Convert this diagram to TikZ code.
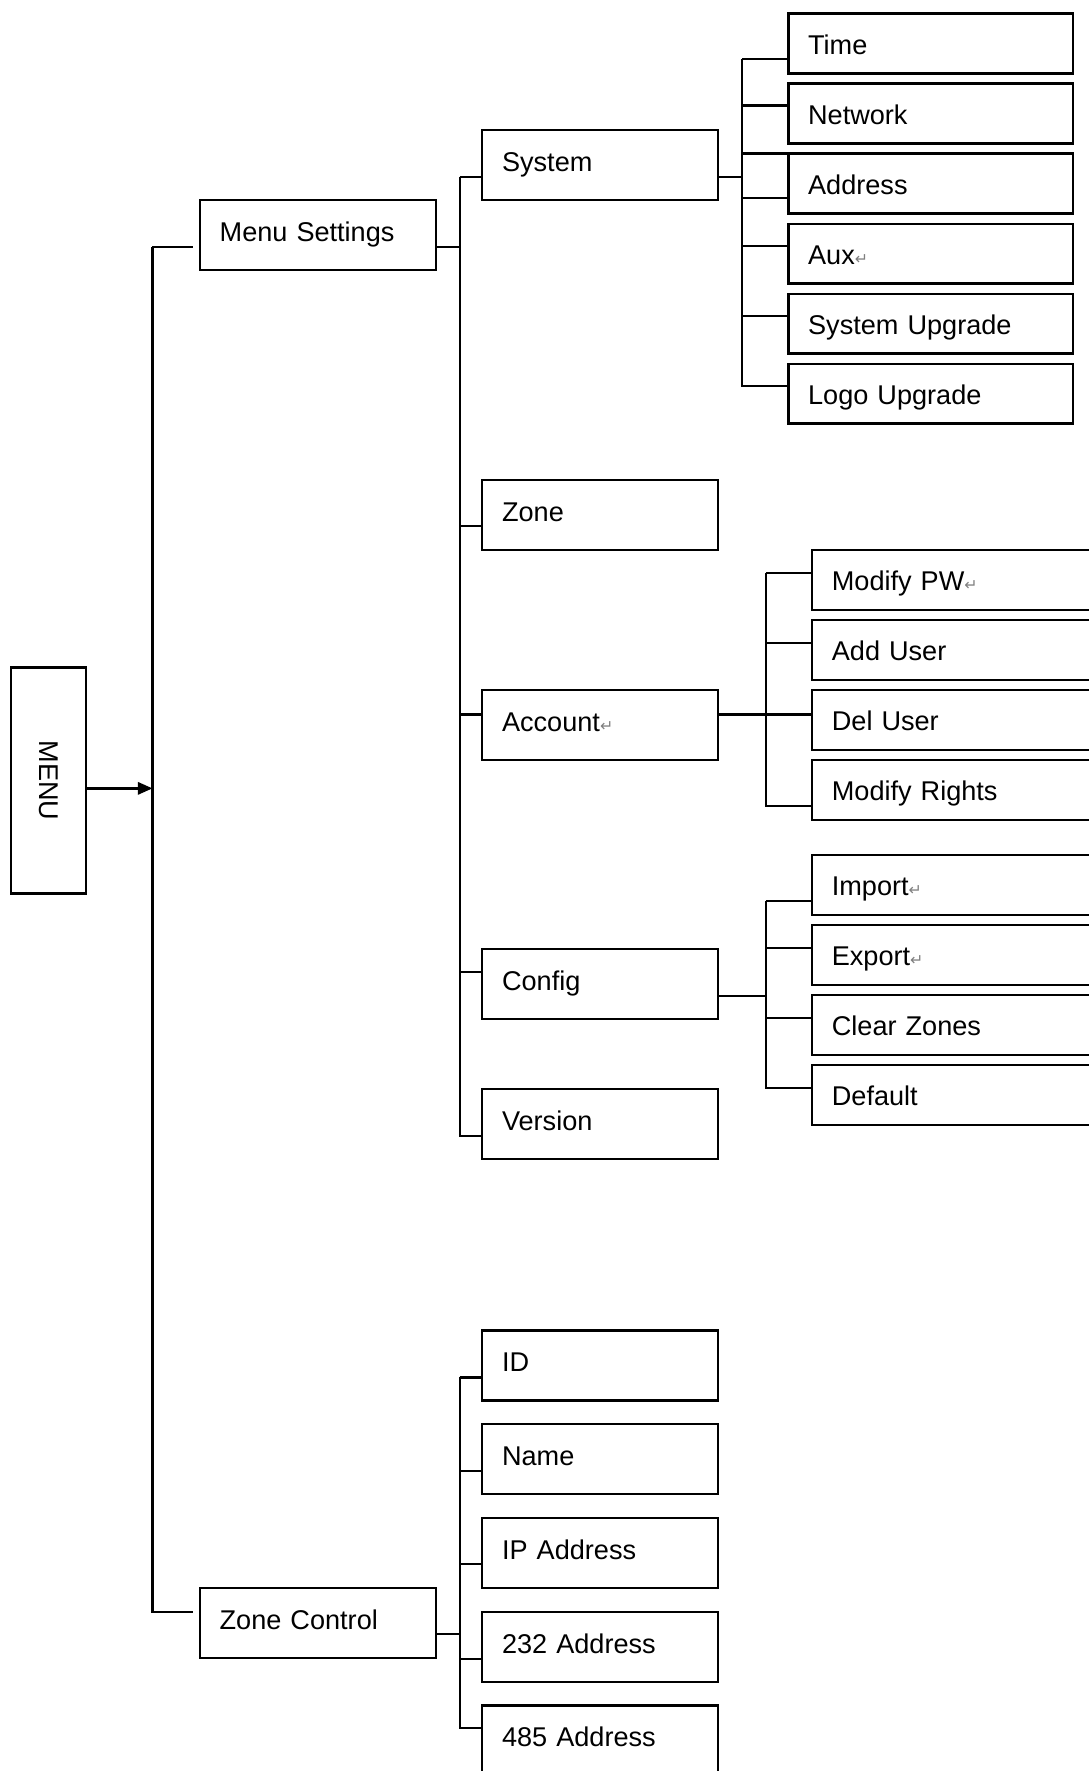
\documentclass[tikz,border=0pt]{standalone}
\usepackage{fontspec}
\setmainfont{Liberation Sans}
\newfontfamily\retfont{DejaVu Sans}
\usetikzlibrary{arrows.meta,positioning}
\newcommand{\ret}{{\retfont\fontsize{7}{8}\selectfont\color{gray}↵}}

\begin{document}
\begin{tikzpicture}[
x=0.5pt, y=-0.5pt,
node distance=4.5pt,
box/.style={draw, line width=1pt, anchor=north west, outer sep=0pt, inner xsep=8.75pt, align=left, text height=8.6pt, text depth=3pt, minimum height=31pt, text width=87pt, font=\fontsize{12}{14}\selectfont},
leaf/.style={box, minimum height=26.5pt, text height=12.4pt, text width=108.5pt},
wide/.style={leaf, text width=130pt},
conn/.style={line width=1pt},
arr/.style={-{Triangle[length=6.5pt,width=5.5pt]}, line width=1pt}
]
\useasboundingbox (0,0) rectangle (964,1568);
\clip (0,0) rectangle (964,1568);

% root and first level
\node[draw, line width=1pt, outer sep=0pt, minimum width=33pt, minimum height=100pt, font=\fontsize{12}{14}\selectfont] (menu) at (43,691) {\rotatebox{-90}{MENU}};
\node[box] (ms) at (177,177) {Menu Settings};
\node[box] (zc) at (177,1406) {Zone Control};

% menu settings
\node[box] (sys) at (427,115) {System};
\node[box] (zone) at (427,425) {Zone};
\node[box] (acc) at (427,611) {Account\ret};
\node[box] (cfg) at (427,840) {Config};
\node[box] (ver) at (427,964) {Version};

\node[leaf] (time) at (698,12) {Time};
\node[leaf, below=of time] (net) {Network};
\node[leaf, below=of net] (addr) {Address};
\node[leaf, below=of addr] (aux) {Aux\ret};
\node[leaf, below=of aux] (sysup) {System Upgrade};
\node[leaf, below=of sysup] (logoup) {Logo Upgrade};

\node[wide] (modpw) at (719,487) {Modify PW\ret};
\node[wide, below=of modpw] (adduser) {Add User};
\node[wide, below=of adduser] (deluser) {Del User};
\node[wide, below=of deluser] (rights) {Modify Rights};

\node[wide] (import) at (719,757) {Import\ret};
\node[wide, below=of import] (export) {Export\ret};
\node[wide, below=of export] (clear) {Clear Zones};
\node[wide, below=of clear] (default) {Default};

% zone control
\node[box] (id) at (427,1178) {ID};
\node[box, below=10.5pt of id] (name) {Name};
\node[box, below=10.5pt of name] (ip) {IP Address};
\node[box, below=10.5pt of ip] (a232) {232 Address};
\node[box, below=10.5pt of a232] (a485) {485 Address};

% trunk tops
\coordinate (t1) at (135,218.5);
\coordinate (t2) at (407,156.5);
\coordinate (t3) at (657,52.5);
\coordinate (t4) at (678,507);
\coordinate (t5) at (678,797.5);
\coordinate (t6) at (407,1219.5);

\draw[arr] ([yshift=-3.5pt]menu.east) -- ++(59,0);
\draw[conn, shorten >=3pt] (t1) |- ([yshift=-5.25pt]ms.west);
\draw[conn, shorten >=3pt] (t1) |- ([yshift=4.75pt]zc.west);

\draw[conn] ([yshift=-5.25pt]ms.east) -| (t2);
\draw[conn] (t2) |- ([yshift=-5.25pt]sys.west);
\draw[conn] (t2) |- ([yshift=-5pt]zone.west);
\draw[conn] (t2) |- ([yshift=4.75pt]acc.west);
\draw[conn] (t2) |- ([yshift=5.25pt]cfg.west);
\draw[conn] (t2) |- ([yshift=-5.25pt]ver.west);

\draw[conn] ([yshift=-5.25pt]sys.east) -| (t3);
\draw[conn] (t3) |- ([yshift=-7pt]time.west);
\draw[conn] (t3) |- ([yshift=3.5pt]net.west);
\draw[conn] (t3) |- (addr.north west);
\draw[conn] (t3) |- ([yshift=-6.5pt]addr.west);
\draw[conn] (t3) |- ([yshift=3.5pt]aux.west);
\draw[conn] (t3) |- ([yshift=3.25pt]sysup.west);
\draw[conn] (t3) |- ([yshift=3.25pt]logoup.west);

\draw[conn] ([yshift=4.75pt]acc.east) -| (t4);
\draw[conn] (t4) |- ([yshift=3.25pt]modpw.west);
\draw[conn] (t4) |- ([yshift=3pt]adduser.west);
\draw[conn] (t4) |- ([yshift=2.5pt]deluser.west);
\draw[conn] (t4) |- ([yshift=-7pt]rights.west);

\draw[conn] ([yshift=-5.25pt]cfg.east) -| (t5);
\draw[conn] (t5) |- ([yshift=-7pt]import.west);
\draw[conn] (t5) |- ([yshift=3.25pt]export.west);
\draw[conn] (t5) |- ([yshift=3.25pt]clear.west);
\draw[conn] (t5) |- ([yshift=3pt]default.west);

\draw[conn] ([yshift=-5pt]zc.east) -| (t6);
\draw[conn] (t6) |- ([yshift=-5.25pt]id.west);
\draw[conn] (t6) |- ([yshift=-5.25pt]name.west);
\draw[conn] (t6) |- ([yshift=-5pt]ip.west);
\draw[conn] (t6) |- ([yshift=-5.5pt]a232.west);
\draw[conn] (t6) |- ([yshift=5.5pt]a485.west);
\end{tikzpicture}
\end{document}
